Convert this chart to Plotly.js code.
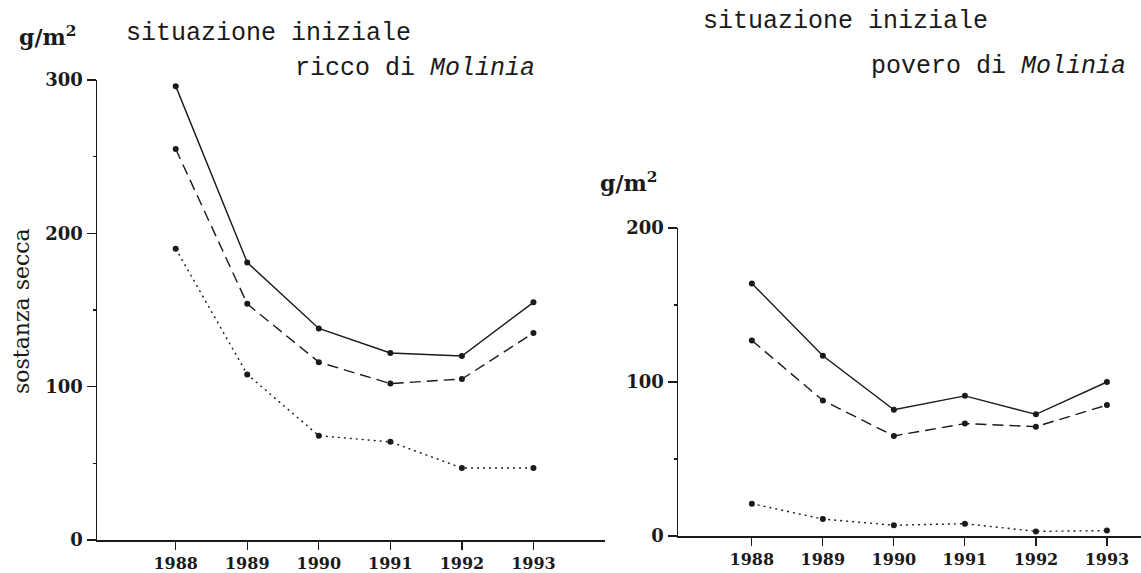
<!DOCTYPE html>
<html>
<head>
<meta charset="utf-8">
<script src="https://cdn.plot.ly/plotly-3.0.1.min.js"></script>
<style>
  html, body { margin: 0; padding: 0; background: #fff; }
  #chart { width: 1141px; height: 573px; }
</style>
</head>
<body>
<div id="chart"></div>
<script>
// years on the x axis (both panels)
const years = [1988, 1989, 1990, 1991, 1992, 1993];

// left panel: initial situation rich in Molinia (g/m2)
const richSolid  = [296, 181, 138, 122, 120, 155];
const richDashed = [255, 154, 116, 102, 105, 135];
const richDotted = [190, 108, 68, 64, 47, 47];

// right panel: initial situation poor in Molinia (g/m2)
const poorSolid  = [164, 117, 82, 91, 79, 100];
const poorDashed = [127, 88, 65, 73, 71, 85];
const poorDotted = [21, 11, 7, 8, 3, 3.5];

const W = 1141, H = 573;
const px = x => x / W;
const py = y => 1 - y / H;

const serif = 'DejaVu Serif, Liberation Serif, serif';
const mono = 'Liberation Mono, Courier New, monospace';
const ink = '#1a1a1a';

function series(y, dash, xa, ya) {
    return {
        x: years, y: y,
        xaxis: xa, yaxis: ya,
        type: 'scatter',
        mode: 'lines+markers',
        line: { color: ink, width: 1.4, dash: dash },
        marker: { color: ink, size: 6 },
        hoverinfo: 'skip',
        showlegend: false
    };
}

const data = [
    series(richSolid, 'solid', 'x', 'y'),
    series(richDashed, '11px,6px', 'x', 'y'),
    series(richDotted, '2px,4px', 'x', 'y'),
    series(poorSolid, 'solid', 'x2', 'y2'),
    series(poorDashed, '11px,6px', 'x2', 'y2'),
    series(poorDotted, '2px,4px', 'x2', 'y2')
];

function xAxis(domain, range) {
    return {
        domain: domain, range: range,
        tickvals: years, ticktext: years.map(String),
        ticks: 'outside', ticklen: 8, tickwidth: 1.2, tickcolor: ink,
        showline: true, linecolor: ink, linewidth: 1.5,
        showgrid: false, zeroline: false,
        tickfont: { family: serif, size: 16, color: ink, weight: 'bold' },
        fixedrange: true
    };
}

function yAxis(domain, range, anchor) {
    return {
        domain: domain, range: range, anchor: anchor,
        dtick: 100, tick0: 0,
        ticks: 'outside', ticklen: 9, tickwidth: 1.2, tickcolor: ink,
        minor: { dtick: 50, ticks: 'outside', ticklen: 3, tickcolor: ink, showgrid: false },
        showline: true, linecolor: ink, linewidth: 1.5,
        showgrid: false, zeroline: false,
        tickfont: { family: serif, size: 18, color: ink, weight: 'bold' },
        fixedrange: true
    };
}

function label(text, x, y, opts) {
    return Object.assign({
        text: text, xref: 'paper', yref: 'paper',
        x: px(x), y: py(y), xanchor: 'left', yanchor: 'middle',
        showarrow: false,
        font: { family: mono, size: 25, color: ink }
    }, opts || {});
}

const unitFont = { family: serif, size: 22, color: ink, weight: 'bold' };

const layout = {
    width: W, height: H,
    margin: { l: 0, r: 0, t: 0, b: 0 },
    paper_bgcolor: '#fff', plot_bgcolor: '#fff',
    xaxis: xAxis([px(97), px(605)], [1986.9, 1994.0]),
    yaxis: yAxis([py(540), py(80)], [0, 300], 'x'),
    xaxis2: Object.assign(xAxis([px(678), 1], [1986.96, 1993.48]), { anchor: 'y2' }),
    yaxis2: yAxis([py(536), py(228)], [0, 200], 'x2'),
    annotations: [
        label('situazione iniziale', 124, 33),
        label('ricco di <i>Molinia</i>', 293, 69),
        label('situazione iniziale', 701, 22),
        label('povero di <i>Molinia</i>', 869, 66),
        label('g/m<sup>2</sup>', 17, 36, { font: unitFont }),
        label('g/m<sup>2</sup>', 598, 182, { font: unitFont }),
        label('sostanza secca', 21, 311, {
            xanchor: 'center', textangle: -90,
            font: { family: serif, size: 22, color: ink }
        })
    ]
};

Plotly.newPlot('chart', data, layout, { staticPlot: true, displayModeBar: false });
</script>
</body>
</html>
